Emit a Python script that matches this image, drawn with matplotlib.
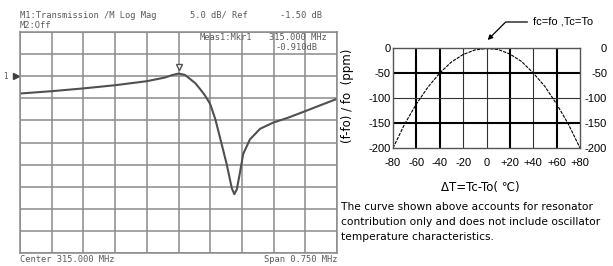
import matplotlib.pyplot as plt
import matplotlib.transforms as mtrans
import numpy as np

# left panel: network analyser trace (transmission, log mag)
freq_mhz = [314.626, 314.700, 314.773, 314.850, 314.925, 314.968, 314.985, 315.000,
            315.015, 315.027, 315.040, 315.051, 315.063, 315.075, 315.087, 315.098,
            315.114, 315.126, 315.132, 315.138, 315.146, 315.153, 315.169, 315.193,
            315.224, 315.259, 315.300, 315.335, 315.373]
mag_db = [-5.41, -4.89, -4.28, -3.54, -2.63, -1.80, -1.25, -0.91,
          -1.20, -2.10, -3.10, -4.40, -5.90, -7.80, -11.2, -15.3,
          -21.4, -26.8, -28.2, -27.1, -23.0, -19.1, -15.8, -13.4,
          -12.0, -10.9, -9.4, -8.1, -6.7]
center = 315.000
span = 0.750
ref_db = -1.50
scale_db = 5.0

# right panel: frequency deviation vs temperature
dT = [-80, -70, -60, -50, -40, -30, -20, -10, 0, 10, 20, 30, 40, 50, 60, 70, 80]
dev_ppm = [-200, -152, -112, -78, -50, -28, -13, -4, -1, -3, -12, -27, -50, -77, -112, -152, -200]
xticks_r = [-80, -60, -40, -20, 0, 20, 40, 60, 80]
xlabels_r = ["-80", "-60", "-40", "-20", "0", "+20", "+40", "+60", "+80"]
yticks_r = [0, -50, -100, -150, -200]

W, H = 613, 266
fig = plt.figure(figsize=(W / 100, H / 100), dpi=100)
sans = ["Liberation Sans", "DejaVu Sans"]
mono = "DejaVu Sans Mono"
gtxt = "#5a5a5a"

# ---------- left panel ----------
ax1 = fig.add_axes([20 / W, 1 - 253 / H, 317 / W, 221 / H])
x0 = center - span / 2
x1 = center + span / 2
ytop = ref_db + 2 * scale_db
ybot = ref_db - 8 * scale_db
ax1.set_xlim(x0, x1)
ax1.set_ylim(ybot, ytop)
ax1.set_xticks(np.linspace(x0, x1, 11))
ax1.set_yticks(np.linspace(ybot, ytop, 11))
ax1.grid(True, color="#8a8a8a", lw=1.1)
ax1.tick_params(length=0, labelbottom=False, labelleft=False)
for s in ax1.spines.values():
    s.set_color("#8a8a8a")
    s.set_linewidth(1.1)
ax1.plot(freq_mhz, mag_db, color="#505050", lw=1.5)
peak = mag_db[freq_mhz.index(center)]
ax1.plot([center], [peak + 1.6], marker="v", ms=5,
         mfc="white", mec="#505050", mew=1, clip_on=False)

# reference level marker "1>" left of the grid
tr = ax1.get_yaxis_transform()
ax1.text(-0.045, ref_db, "1", transform=tr, fontsize=5.5, family=mono,
         color=gtxt, ha="center", va="center")
ax1.plot([-0.012], [ref_db], transform=tr, marker=">", ms=5, color="#404040",
         clip_on=False)


def ftext(x, y, s, ha="left"):
    fig.text(x / W, 1 - y / H, s, fontsize=6.3, family=mono, color=gtxt,
             ha=ha, va="center")


ftext(20, 15, "M1:Transmission /M Log Mag")
ftext(190, 15, "%.1f dB/ Ref" % scale_db)
ftext(280, 15, "%.2f dB" % ref_db)
ftext(20, 25, "M2:Off")
ftext(200, 37, "Meas1:Mkr1")
ftext(269, 37, "%.3f MHz" % center)
ftext(275, 48, "%.3fdB" % peak)
ftext(20, 259, "Center %.3f MHz" % center)
ftext(337, 259, "Span %.3f MHz" % span, ha="right")

# ---------- right panel ----------
ax2 = fig.add_axes([393 / W, 1 - 148 / H, 187 / W, 100 / H])
ax2.set_xlim(-80, 80)
ax2.set_ylim(-200, 0)
for v in [-60, -40, 20, 60]:
    ax2.axvline(v, color="black", lw=1.5)
for v in [-20, 0, 40]:
    ax2.axvline(v, color="#333333", lw=0.8)
for v in [-50, -150]:
    ax2.axhline(v, color="black", lw=1.5)
ax2.axhline(-100, color="#333333", lw=0.8)
for s in ax2.spines.values():
    s.set_color("#555555")
    s.set_linewidth(1.0)
ax2.plot(dT, dev_ppm, color="black", lw=0.8, ls=(0, (3, 1)))

ax2.set_xticks(xticks_r)
ax2.set_xticklabels(xlabels_r, family=sans, fontsize=8)
ax2.set_yticks(yticks_r)
ax2.set_yticklabels([str(v) for v in yticks_r], family=sans, fontsize=8)
ax2.tick_params(axis="x", length=0, pad=7)
ax2.tick_params(axis="y", length=0, pad=1.5, labelright=True)
# right-hand labels are right aligned, ending near x=607
shift = mtrans.ScaledTranslation(27 / 100 - 1.5 / 72, 0, fig.dpi_scale_trans)
for t in ax2.yaxis.get_major_ticks():
    t.label2.set_horizontalalignment("right")
    t.label2.set_transform(t.label2.get_transform() + shift)

fig.text(480 / W, 1 - 188 / H, "\u0394T=Tc-To( \u2103)", family="DejaVu Sans",
         fontsize=8.5, ha="center", va="center")
fig.text(348 / W, 1 - 96 / H, "(f-fo) / fo  (ppm)", family="DejaVu Sans",
         fontsize=8.5, rotation=90, ha="center", va="center")
ax2.annotate("fc=fo ,Tc=To", xy=(1, 16), xycoords="data",
             xytext=(533 / W, 1 - 22 / H), textcoords="figure fraction",
             fontsize=8, family=sans, va="center", ha="left",
             annotation_clip=False,
             arrowprops=dict(arrowstyle="-|>", color="black", lw=0.9,
                             shrinkA=2, shrinkB=0, mutation_scale=7,
                             connectionstyle="angle,angleA=0,angleB=45,rad=0"))

caption = ["The curve shown above accounts for resonator",
           "contribution only and does not include oscillator",
           "temperature characteristics."]
for i, line in enumerate(caption):
    fig.text(341 / W, 1 - (207 + 15 * i) / H, line, family="DejaVu Sans",
             fontsize=7.7, ha="left", va="center")

fig.savefig("out.png", dpi=100)
